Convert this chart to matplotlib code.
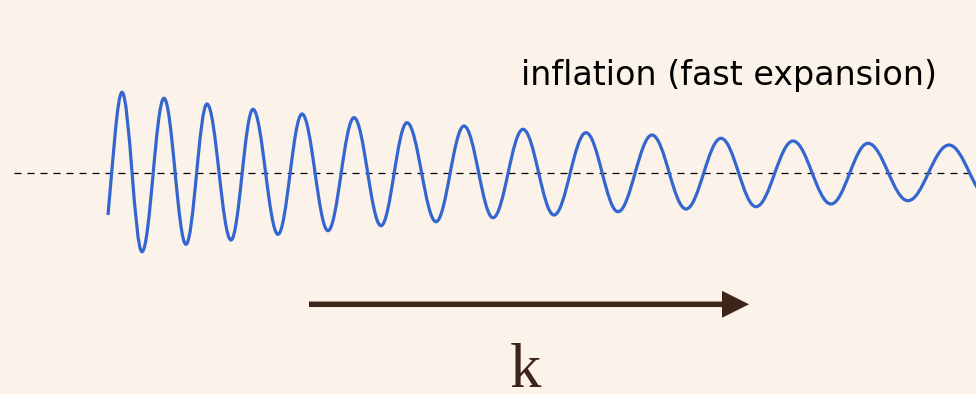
import matplotlib
matplotlib.use("Agg")
import matplotlib.pyplot as plt
from matplotlib.path import Path
from matplotlib.patches import PathPatch, FancyArrow

# --- data (position along k, displacement from baseline) ---
# drawn start point of the wave and its local slope there
start_x, start_disp, start_slope = 108, -41.7, 10.8
# extrema of the oscillation (the last one is the hidden continuation beyond the right edge)
extrema_x = [122, 142, 164, 186, 207, 231, 253, 278, 302, 328, 354, 381,
             407, 436, 464, 493, 523, 554, 586, 618, 652, 686, 721, 756,
             793, 831, 868, 908, 949, 989]
extrema_disp = [81, -78.4, 75, -71, 69.3, -66.7, 64, -61, 59.3, -57.4,
                55.6, -52.4, 50.6, -48.4, 47.3, -44.4, 44, -41.7, 40.6, -38.4,
                38.3, -35.7, 35, -33.4, 32.3, -30.7, 30, -27.4, 28.3, -25]
label_text = "inflation (fast expansion)"
axis_label = "k"

BG = "#fbf2e9"
WAVE = "#3366d0"
BROWN = "#3e2519"

fig = plt.figure(figsize=(9.76, 3.94), dpi=100, facecolor=BG)
ax = fig.add_axes([0, 0, 1, 1])
ax.set_facecolor(BG)
ax.set_xlim(0, 976)
ax.set_ylim(-220.7, 173.3)
ax.axis("off")

# baseline
ax.axhline(0, xmin=14 / 976, xmax=1, color="black", lw=0.9,
           linestyle=(0, (5.6, 4.8)), zorder=1)

# smooth wave through the extrema (cubic Bezier half-waves with flat tangents)
c = 0.364
h = (extrema_x[0] - start_x) / 3.0
verts = [(start_x, start_disp),
         (start_x + h, start_disp + start_slope * h),
         (extrema_x[0] - h, extrema_disp[0]),
         (extrema_x[0], extrema_disp[0])]
codes = [Path.MOVETO, Path.CURVE4, Path.CURVE4, Path.CURVE4]
for i in range(len(extrema_x) - 1):
    x0, y0 = extrema_x[i], extrema_disp[i]
    x1, y1 = extrema_x[i + 1], extrema_disp[i + 1]
    dx = x1 - x0
    verts += [(x0 + c * dx, y0), (x1 - c * dx, y1), (x1, y1)]
    codes += [Path.CURVE4] * 3
wave = PathPatch(Path(verts, codes), facecolor="none", edgecolor=WAVE,
                 lw=2.3, capstyle="butt", zorder=2)
ax.add_patch(wave)

# label
ax.text(521, 173.3 - 85, label_text, fontsize=24, family="DejaVu Sans",
        color="black", ha="left", va="baseline")

# k arrow
ax.add_patch(FancyArrow(309, 173.3 - 304.3, 440, 0, width=5.5, head_width=27,
                        head_length=27, length_includes_head=True,
                        color=BROWN, lw=0))
ax.text(525, 173.3 - 387, axis_label, fontsize=45, family="Liberation Serif",
        color=BROWN, ha="center", va="baseline")

fig.savefig("out.png", dpi=100, facecolor=BG)
